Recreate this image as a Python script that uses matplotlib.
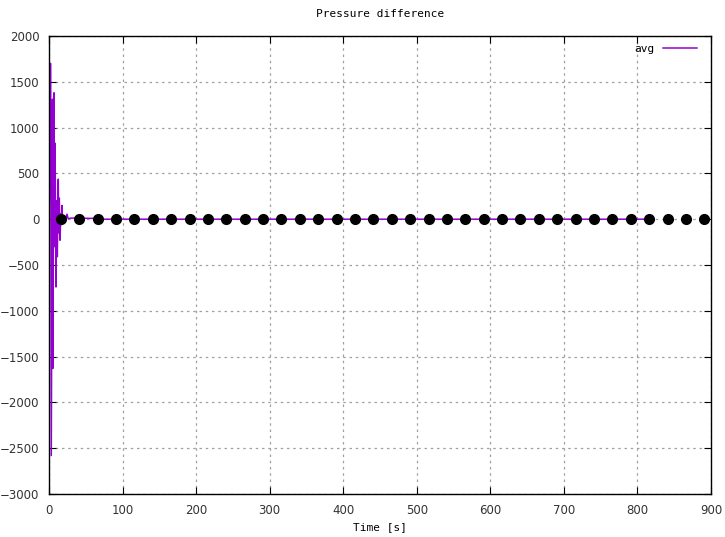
import matplotlib.pyplot as plt

# avg pressure difference samples (time in s, value)
time_s = [0, 2.3, 3.1, 4.8, 5.2, 6.8, 7.5, 8.2, 9.5, 10.5, 11.3, 12.6, 13.3,
          14, 15, 16, 17, 17.7, 18.5, 20, 22, 24.5, 26, 30, 65, 70, 816]
avg = [-100, 1700, -2580, 1310, -1630, 1380, -300, 830, -740, 200, -410,
       437, -150, 230, -230, 60, -60, 150, -50, 30, -10, 55, 5, 12, 8, 0, 0]

# black markers along zero
dot_t = [16 + 25 * k for k in range(36)]
dot_v = [0] * len(dot_t)

fig = plt.figure(figsize=(7.25, 5.37), dpi=100)
ax = fig.add_axes([0.0676, 0.0801, 0.9131, 0.8529])

ax.plot(time_s, avg, color='#9400d3', lw=1.1, label='avg', zorder=2)
ax.plot(dot_t, dot_v, 'o', color='black', ms=7, zorder=3)

ax.set_xlim(0, 900)
ax.set_ylim(-3000, 2000)
ax.set_xticks(range(0, 901, 100))
ax.set_yticks(range(-3000, 2001, 500))
ax.grid(True, color='#a0a0a0', linestyle=(0, (2, 3)), lw=0.9)
ax.tick_params(direction='in', top=True, right=True, length=5,
               labelsize=8.5, labelcolor='#333333', pad=7)
for s in ax.spines.values():
    s.set_linewidth(1.0)

ax.set_title('Pressure difference', family='DejaVu Sans Mono', fontsize=8, pad=14)
ax.set_xlabel('Time [s]', family='DejaVu Sans Mono', fontsize=8, labelpad=4)

leg = ax.legend(loc='upper right', bbox_to_anchor=(0.99, 1.0), frameon=False,
                markerfirst=False, handlelength=3.0, fontsize=8,
                borderaxespad=0.3)
for t in leg.get_texts():
    t.set_family('DejaVu Sans Mono')

plt.savefig('out.png')
